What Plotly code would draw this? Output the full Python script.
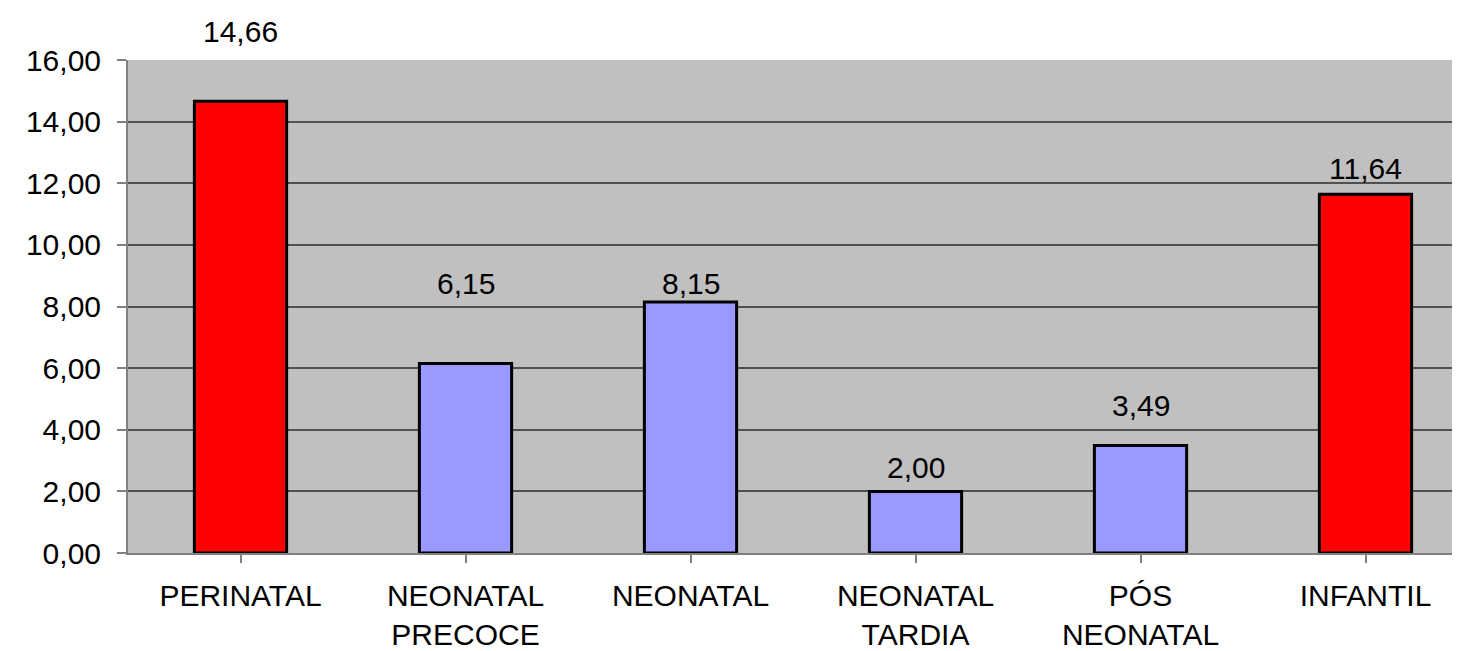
import plotly.graph_objects as go

categories = ["PERINATAL", "NEONATAL<br>PRECOCE", "NEONATAL", "NEONATAL<br>TARDIA", "PÓS<br>NEONATAL", "INFANTIL"]
values = [14.66, 6.15, 8.15, 2.00, 3.49, 11.64]
bar_colors = ["#FF0000", "#9999FF", "#9999FF", "#9999FF", "#9999FF", "#FF0000"]
value_labels = ["14,66", "6,15", "8,15", "2,00", "3,49", "11,64"]
label_shift = [70, 80, 18, 24, 40, 26]
y_ticks = [0, 2, 4, 6, 8, 10, 12, 14, 16]
y_tick_text = ["0,00", "2,00", "4,00", "6,00", "8,00", "10,00", "12,00", "14,00", "16,00"]

FONT = "Liberation Sans, Arial, sans-serif"
FS = 30

fig = go.Figure()
fig.add_trace(go.Bar(
    x=list(range(len(categories))),
    y=values,
    width=0.41,
    marker=dict(color=bar_colors, line=dict(color="#000000", width=3)),
    hoverinfo="skip",
))

for i, (v, t, s) in enumerate(zip(values, value_labels, label_shift)):
    fig.add_annotation(x=i, y=v, text=t, showarrow=False, yanchor="middle",
                       yshift=s, font=dict(family=FONT, size=FS, color="#000000"))

fig.update_layout(
    width=1452, height=643,
    autosize=False,
    margin=dict(l=120, r=0, t=52, b=98, autoexpand=False),
    paper_bgcolor="#FFFFFF",
    plot_bgcolor="#C0C0C0",
    showlegend=False,
    font=dict(family=FONT, size=FS, color="#000000"),
)
fig.update_xaxes(
    range=[-0.5, 5.42],
    tickmode="array",
    tickvals=list(range(len(categories))),
    ticktext=categories,
    showgrid=False,
    ticks="outside", ticklen=8, tickcolor="#808080", tickwidth=2,
    tickson="boundaries",
    ticklabelstandoff=7,
    showline=True, linecolor="#808080", linewidth=2,
    tickfont=dict(family=FONT, size=FS, color="#000000"),
    zeroline=False,
    automargin=False,
)
fig.update_yaxes(
    range=[0, 16],
    tickmode="array",
    tickvals=y_ticks,
    ticktext=y_tick_text,
    showgrid=True, gridcolor="#505050", gridwidth=1.5,
    ticks="outside", ticklen=9, tickcolor="#808080", tickwidth=2,
    ticklabelstandoff=10,
    showline=True, linecolor="#808080", linewidth=2,
    tickfont=dict(family=FONT, size=FS, color="#000000"),
    zeroline=False,
    automargin=False,
)

fig.write_html("out.html", config={"responsive": False})
